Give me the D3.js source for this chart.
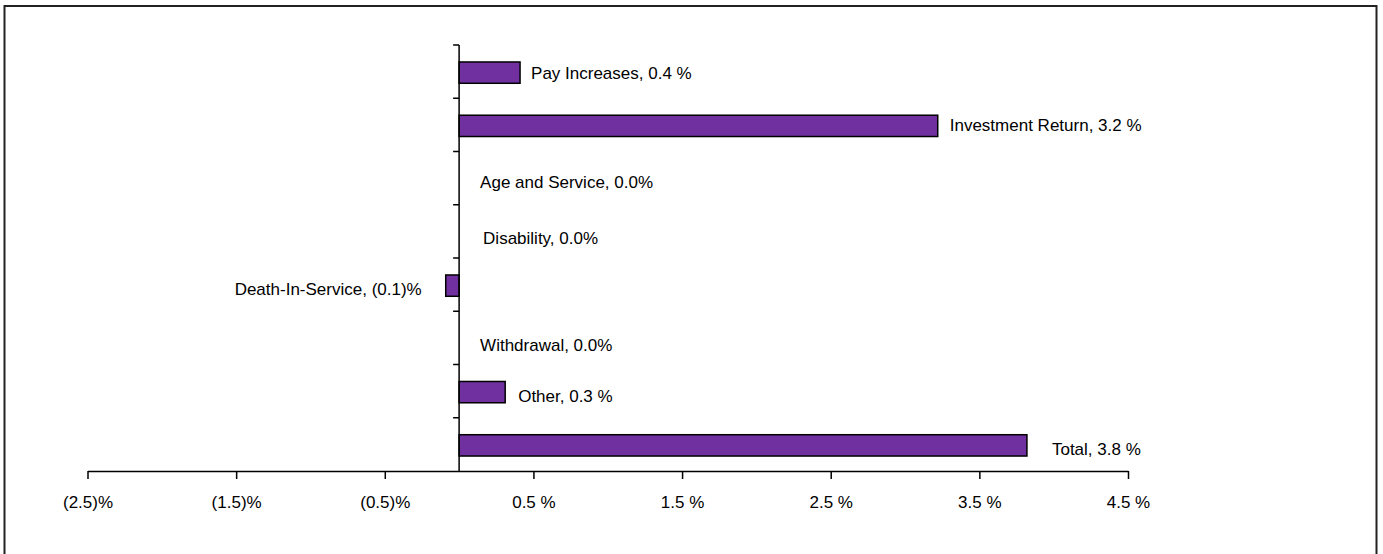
<!DOCTYPE html>
<meta charset="utf-8">
<script src="https://d3js.org/d3.v7.min.js"></script>
<style>
  body { margin: 0; background: #fff; }
  text { font-family: "Liberation Sans Narrow", "Arial Narrow", "Liberation Sans", sans-serif; fill: #000; }
</style>
<div id="chart"></div>
<script>

// categories, top to bottom
var categories = ["Pay Increases", "Investment Return", "Age and Service", "Disability",
                  "Death-In-Service", "Withdrawal", "Other", "Total"];

// gain / loss as % of payroll
var values = [0.41, 3.22, 0.0, 0.0, -0.09, 0.0, 0.31, 3.82];

// data label text as printed on the chart
var valueLabels = ["0.4 %", "3.2 %", "0.0%", "0.0%", "(0.1)%", "0.0%", "0.3 %", "3.8 %"];

// x axis ticks and their labels
var tickValues = [-2.5, -1.5, -0.5, 0.5, 1.5, 2.5, 3.5, 4.5];
var tickLabels = ["(2.5)%", "(1.5)%", "(0.5)%", "0.5 %", "1.5 %", "2.5 %", "3.5 %", "4.5 %"];

var W = 1383, H = 554;

var svg = d3.select("#chart")
  .append("svg")
    .attr("width", W)
    .attr("height", H);

// outer frame of the chart area
svg.append("rect")
  .attr("x", 4.5)
  .attr("y", 6)
  .attr("width", 1372)
  .attr("height", H)
  .attr("fill", "none")
  .attr("stroke", "#222")
  .attr("stroke-width", 2);

var x = d3.scaleLinear()
  .domain([-2.5, 4.5])
  .range([87.5, 1128]);

var y = d3.scaleBand()
  .domain(categories)
  .range([45, 471])
  .paddingInner(0.6)
  .paddingOuter(0.3);

var step = y.step();

// bars
svg.selectAll(".bar")
  .data(values)
  .enter()
  .append("rect")
    .attr("class", "bar")
    .attr("x", function(d) { return x(Math.min(0, d)); })
    .attr("y", function(d, i) { return y(categories[i]) + 1; })
    .attr("width", function(d) { return Math.abs(x(d) - x(0)); })
    .attr("height", y.bandwidth())
    .attr("fill", "#7030a0")
    .attr("stroke", function(d) { return d === 0 ? "none" : "#000"; })
    .attr("stroke-width", 1.5);

// X axis
var xAxis = d3.axisBottom(x)
  .tickValues(tickValues)
  .tickSize(8)
  .tickSizeOuter(0)
  .tickFormat(function(d, i) { return tickLabels[i]; });

var gx = svg.append("g")
  .attr("transform", "translate(0,471)")
  .call(xAxis);
gx.select(".domain").attr("stroke", "#000").attr("stroke-width", 1.5);
gx.selectAll(".tick line").attr("stroke", "#000").attr("stroke-width", 1.5);
gx.selectAll(".tick text")
  .attr("y", 31)
  .attr("dy", "0.35em")
  .style("font-size", "17px");

// vertical axis at zero with ticks between categories
var gy = svg.append("g");
gy.append("line")
  .attr("x1", x(0)).attr("x2", x(0))
  .attr("y1", 45).attr("y2", 471)
  .attr("stroke", "#000")
  .attr("stroke-width", 1.5);
gy.selectAll(".ytick")
  .data(d3.range(categories.length))
  .enter()
  .append("line")
    .attr("class", "ytick")
    .attr("x1", x(0) - 6).attr("x2", x(0))
    .attr("y1", function(i) { return 45 + i * step; })
    .attr("y2", function(i) { return 45 + i * step; })
    .attr("stroke", "#000")
    .attr("stroke-width", 1.5);

// data labels, nudged the way they sit on the original
var nudge = {
  "Pay Increases":    [11, 0],
  "Investment Return":[12, -1],
  "Age and Service":  [21, 3],
  "Disability":       [24, 6],
  "Death-In-Service": [-24, 3],
  "Withdrawal":       [21, 6],
  "Other":            [13, 4],
  "Total":            [25, 4]
};

svg.selectAll(".lbl")
  .data(values)
  .enter()
  .append("text")
    .attr("class", "lbl")
    .attr("x", function(d, i) {
      var n = nudge[categories[i]];
      return d < 0 ? x(d) + n[0] : x(Math.max(0, d)) + n[0];
    })
    .attr("y", function(d, i) {
      return y(categories[i]) + y.bandwidth() / 2 + 1 + nudge[categories[i]][1];
    })
    .attr("dy", "0.35em")
    .attr("text-anchor", function(d) { return d < 0 ? "end" : "start"; })
    .style("font-size", "17px")
    .text(function(d, i) { return categories[i] + ", " + valueLabels[i]; });

</script>
